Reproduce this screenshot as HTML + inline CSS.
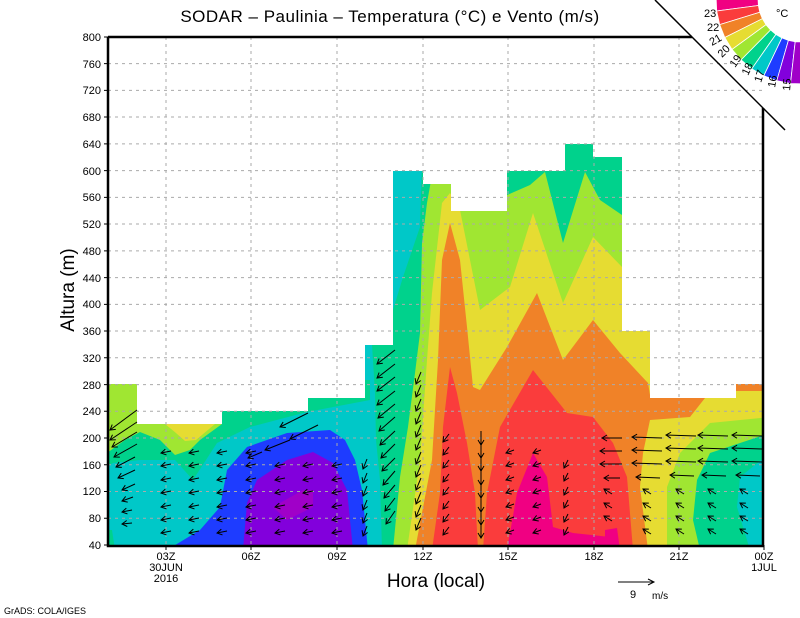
<!DOCTYPE html>
<html><head><meta charset="utf-8"><style>
html,body{margin:0;padding:0;background:#fff;}
svg{display:block;font-family:"Liberation Sans",sans-serif;}
</style></head><body>
<svg width="800" height="618" viewBox="0 0 800 618" xmlns="http://www.w3.org/2000/svg">
<defs>
<clipPath id="dc">
<polygon points="108,384 137,384 137,424 222,424 222,411 308,411 308,398 365,398 365,345 393,345 393,171 423,171 423,184 451,184 451,211 507,211 507,171 565,171 565,144 593,144 593,157 622,157 622,331 650,331 650,398 736,398 736,384 763,384 763,545 108,545"/>
</clipPath>
<marker id="ah" markerUnits="userSpaceOnUse" markerWidth="12" markerHeight="12" refX="0" refY="0" viewBox="-8 -6 12 12" orient="auto">
<path d="M-5,-3L0,0L-5,3" fill="none" stroke="#000" stroke-width="1"/>
</marker>
</defs>
<g clip-path="url(#dc)">
<rect x="100" y="130" width="670" height="420" fill="#00c8c8"/>
<polygon fill="#00d28c" points="100,380 370,380 370,400 307,412 250,427 217,443 193,480 175,460 140,460 113,463 100,470"/>
<polygon fill="#a0e632" points="100,380 222,380 222,424 200,440 190,450 175,455 160,440 140,432 125,440 100,458"/>
<polygon fill="#e6dc32" points="165,424 215,424 196,440 185,441 176,433"/>
<polygon fill="#00d28c" points="100,530 112,530 115,550 100,550"/>
<polygon fill="#1e3cff" points="167,550 200,530 220,507 227,470 247,447 287,433 330,430 345,440 355,460 362,490 368,550"/>
<polygon fill="#8200dc" points="243,550 247,503 257,480 287,460 313,452 333,463 347,490 353,550"/>
<polygon fill="#a000c8" points="273,507 303,490 313,490 313,507 287,520"/>
<polygon fill="#00d28c" points="423,130 770,130 770,453 740,477 737,507 750,550 382,550 380,480 376,440 375,393 372,345 393,310 403,277 420,227"/>
<polygon fill="#a0e632" points="440,130 505,130 507,195 530,185 545,172 563,243 585,172 600,200 622,215 622,130 770,130 770,433 710,453 697,480 693,520 700,550 393,550 400,477 408,427 415,373 420,333 422,243 427,203"/>
<polygon fill="#e6dc32" points="442,203 450,193 460,210 480,310 510,287 533,213 563,303 593,237 622,267 650,320 770,320 770,417 710,423 680,453 667,487 667,550 407,550 420,460 427,360 432,293"/>
<polygon fill="#f08228" points="450,223 460,260 467,327 473,387 480,390 507,347 537,293 563,360 593,320 620,353 648,383 650,395 705,398 690,417 650,420 643,453 640,487 648,550 415,550 432,460 438,360 442,260"/>
<polygon fill="#f08228" points="736,383 770,383 770,391 736,391"/>
<polygon fill="#fa3c3c" points="450,367 457,393 467,443 475,493 478,550 432,550 440,493 443,427"/>
<polygon fill="#fa3c3c" points="483,550 487,493 500,427 533,370 567,413 593,417 613,443 627,477 633,550"/>
<polygon fill="#f00082" points="507,550 517,493 533,453 547,477 553,527 573,533 610,537 617,550"/>
<polygon fill="#f00082" points="605,530 617,528 620,550 605,550"/>
</g>
<g stroke="#aaa" stroke-width="1" stroke-dasharray="3,4" fill="none">
<path d="M108,518.3H763M108,491.5H763M108,464.8H763M108,438H763M108,411.3H763M108,384.6H763M108,357.8H763M108,331H763M108,304.4H763M108,277.6H763M108,250.9H763M108,224H763M108,197.4H763M108,170.6H763M108,143.9H763M108,117H763M108,90.4H763M108,63.6H763"/>
<path d="M166,37V545M251,37V545M337,37V545M423,37V545M508,37V545M594,37V545M679,37V545"/>
</g>
<!-- wind arrows -->
<g stroke="#000" stroke-width="1" fill="none" marker-end="url(#ah)">
<line x1="137" y1="410" x2="110" y2="430"/><line x1="137" y1="422" x2="110" y2="440"/><line x1="137" y1="432" x2="112" y2="447"/><line x1="137" y1="444" x2="114" y2="457"/><line x1="135" y1="457" x2="116" y2="467"/><line x1="135" y1="470" x2="118" y2="478"/><line x1="135" y1="484" x2="122" y2="490"/><line x1="133" y1="497" x2="122" y2="501"/><line x1="132" y1="510" x2="122" y2="512"/><line x1="132" y1="523" x2="122" y2="524"/>
<line x1="171" y1="451" x2="161" y2="453"/><line x1="171" y1="464" x2="161" y2="466"/><line x1="171" y1="478" x2="161" y2="480"/><line x1="171" y1="491" x2="161" y2="493"/><line x1="171" y1="505" x2="161" y2="507"/><line x1="171" y1="518" x2="161" y2="520"/><line x1="171" y1="531" x2="161" y2="533"/>
<line x1="199" y1="451" x2="189" y2="453"/><line x1="199" y1="464" x2="189" y2="466"/><line x1="199" y1="478" x2="189" y2="480"/><line x1="199" y1="491" x2="189" y2="493"/><line x1="199" y1="505" x2="189" y2="507"/><line x1="199" y1="518" x2="189" y2="520"/><line x1="199" y1="531" x2="189" y2="533"/>
<line x1="227" y1="451" x2="217" y2="453"/><line x1="227" y1="464" x2="217" y2="466"/><line x1="227" y1="478" x2="217" y2="480"/><line x1="227" y1="491" x2="217" y2="493"/><line x1="227" y1="505" x2="217" y2="507"/><line x1="227" y1="518" x2="217" y2="520"/><line x1="227" y1="531" x2="217" y2="533"/>
<line x1="256" y1="451" x2="246" y2="453"/><line x1="256" y1="464" x2="246" y2="466"/><line x1="256" y1="478" x2="246" y2="480"/><line x1="256" y1="491" x2="246" y2="493"/><line x1="256" y1="505" x2="246" y2="507"/><line x1="256" y1="518" x2="246" y2="520"/><line x1="256" y1="531" x2="246" y2="533"/>
<line x1="285" y1="464" x2="275" y2="466"/><line x1="285" y1="478" x2="275" y2="480"/><line x1="285" y1="491" x2="275" y2="493"/><line x1="285" y1="505" x2="275" y2="507"/><line x1="285" y1="518" x2="275" y2="520"/><line x1="285" y1="531" x2="275" y2="533"/>
<line x1="313" y1="464" x2="303" y2="466"/><line x1="313" y1="478" x2="303" y2="480"/><line x1="313" y1="491" x2="303" y2="493"/><line x1="313" y1="505" x2="303" y2="507"/><line x1="313" y1="518" x2="303" y2="520"/><line x1="313" y1="531" x2="303" y2="533"/>
<line x1="342" y1="464" x2="332" y2="466"/><line x1="342" y1="478" x2="332" y2="480"/><line x1="342" y1="491" x2="332" y2="493"/><line x1="342" y1="505" x2="332" y2="507"/><line x1="342" y1="518" x2="332" y2="520"/><line x1="342" y1="531" x2="332" y2="533"/>
<line x1="308" y1="413" x2="280" y2="427"/><line x1="318" y1="425" x2="290" y2="439"/><line x1="290" y1="440" x2="265" y2="450"/><line x1="262" y1="452" x2="248" y2="458"/>
<line x1="367" y1="459" x2="363" y2="469"/><line x1="367" y1="473" x2="363" y2="483"/><line x1="367" y1="486" x2="363" y2="496"/><line x1="367" y1="500" x2="363" y2="510"/><line x1="367" y1="513" x2="363" y2="523"/><line x1="367" y1="526" x2="363" y2="536"/>
<line x1="395" y1="350" x2="377" y2="364"/><line x1="395" y1="364" x2="377" y2="378"/><line x1="395" y1="377" x2="377" y2="391"/><line x1="395" y1="391" x2="377" y2="405"/><line x1="395" y1="404" x2="378" y2="418"/><line x1="395" y1="417" x2="379" y2="431"/><line x1="395" y1="431" x2="380" y2="445"/><line x1="395" y1="444" x2="381" y2="458"/><line x1="395" y1="458" x2="382" y2="471"/><line x1="395" y1="471" x2="383" y2="485"/><line x1="395" y1="485" x2="384" y2="498"/><line x1="395" y1="498" x2="385" y2="511"/><line x1="395" y1="511" x2="386" y2="524"/>
<line x1="421" y1="372" x2="416" y2="384"/><line x1="421" y1="385" x2="416" y2="397"/><line x1="421" y1="399" x2="416" y2="411"/><line x1="421" y1="412" x2="416" y2="424"/><line x1="421" y1="425" x2="416" y2="437"/><line x1="421" y1="438" x2="416" y2="450"/><line x1="421" y1="452" x2="416" y2="464"/><line x1="421" y1="465" x2="416" y2="477"/><line x1="421" y1="478" x2="416" y2="490"/><line x1="421" y1="492" x2="416" y2="504"/><line x1="421" y1="505" x2="416" y2="517"/><line x1="421" y1="518" x2="416" y2="530"/>
<line x1="449" y1="434" x2="443" y2="442"/><line x1="449" y1="447" x2="443" y2="455"/><line x1="449" y1="460" x2="443" y2="468"/><line x1="449" y1="474" x2="443" y2="482"/><line x1="449" y1="487" x2="443" y2="495"/><line x1="449" y1="501" x2="443" y2="509"/><line x1="449" y1="514" x2="443" y2="522"/><line x1="449" y1="527" x2="443" y2="535"/>
<line x1="481" y1="431" x2="481" y2="445"/><line x1="481" y1="444" x2="481" y2="458"/><line x1="481" y1="457" x2="481" y2="471"/><line x1="481" y1="471" x2="481" y2="485"/><line x1="481" y1="484" x2="481" y2="498"/><line x1="481" y1="498" x2="481" y2="512"/><line x1="481" y1="511" x2="481" y2="525"/><line x1="481" y1="524" x2="481" y2="538"/>
<line x1="514" y1="450" x2="506" y2="453"/><line x1="514" y1="463" x2="506" y2="466"/><line x1="514" y1="477" x2="506" y2="480"/><line x1="514" y1="490" x2="506" y2="493"/><line x1="514" y1="504" x2="506" y2="507"/><line x1="514" y1="517" x2="506" y2="520"/><line x1="514" y1="530" x2="506" y2="533"/>
<line x1="541" y1="450" x2="533" y2="453"/><line x1="541" y1="463" x2="533" y2="466"/><line x1="541" y1="477" x2="533" y2="480"/><line x1="541" y1="490" x2="533" y2="493"/><line x1="541" y1="504" x2="533" y2="507"/><line x1="541" y1="517" x2="533" y2="520"/><line x1="541" y1="530" x2="533" y2="533"/>
<line x1="568" y1="460" x2="564" y2="468"/><line x1="568" y1="473" x2="564" y2="481"/><line x1="568" y1="487" x2="564" y2="495"/><line x1="568" y1="500" x2="564" y2="508"/><line x1="568" y1="514" x2="564" y2="522"/><line x1="568" y1="527" x2="564" y2="535"/>
<line x1="622" y1="438" x2="602" y2="438"/><line x1="622" y1="451" x2="600" y2="451"/><line x1="622" y1="464" x2="600" y2="464"/><line x1="620" y1="478" x2="604" y2="478"/>
<line x1="662" y1="438" x2="632" y2="437"/><line x1="662" y1="451" x2="632" y2="450"/><line x1="662" y1="464" x2="632" y2="463"/><line x1="660" y1="478" x2="636" y2="477"/>
<line x1="696" y1="436" x2="666" y2="435"/><line x1="696" y1="449" x2="666" y2="448"/><line x1="696" y1="462" x2="666" y2="461"/><line x1="694" y1="476" x2="670" y2="475"/>
<line x1="728" y1="436" x2="698" y2="435"/><line x1="728" y1="449" x2="698" y2="448"/><line x1="728" y1="462" x2="698" y2="461"/><line x1="726" y1="476" x2="702" y2="475"/>
<line x1="762" y1="436" x2="732" y2="435"/><line x1="762" y1="449" x2="732" y2="448"/><line x1="762" y1="462" x2="732" y2="461"/><line x1="760" y1="476" x2="736" y2="475"/>
<line x1="612" y1="494" x2="604" y2="489"/><line x1="612" y1="508" x2="604" y2="503"/><line x1="612" y1="521" x2="604" y2="516"/>
<line x1="651" y1="494" x2="643" y2="489"/><line x1="651" y1="508" x2="643" y2="503"/><line x1="651" y1="521" x2="643" y2="516"/><line x1="651" y1="534" x2="643" y2="529"/>
<line x1="684" y1="494" x2="676" y2="489"/><line x1="684" y1="508" x2="676" y2="503"/><line x1="684" y1="521" x2="676" y2="516"/><line x1="684" y1="534" x2="676" y2="529"/>
<line x1="716" y1="494" x2="708" y2="489"/><line x1="716" y1="508" x2="708" y2="503"/><line x1="716" y1="521" x2="708" y2="516"/><line x1="716" y1="534" x2="708" y2="529"/>
<line x1="748" y1="494" x2="740" y2="489"/><line x1="748" y1="508" x2="740" y2="503"/><line x1="748" y1="521" x2="740" y2="516"/><line x1="748" y1="534" x2="740" y2="529"/>
</g>
<g stroke="#000" fill="none">
<path d="M108,37V546H764" stroke-width="2.5"/>
<path d="M108,37H692" stroke-width="2.5"/>
<path d="M763,108V546" stroke-width="2.5"/>
<path d="M104,545h4M104,518.3h4M104,491.5h4M104,464.8h4M104,438h4M104,411.3h4M104,384.6h4M104,357.8h4M104,331h4M104,304.4h4M104,277.6h4M104,250.9h4M104,224h4M104,197.4h4M104,170.6h4M104,143.9h4M104,117h4M104,90.4h4M104,63.6h4M104,37h4" stroke-width="1"/>
<path d="M166,545v5M251,545v5M337,545v5M423,545v5M508,545v5M594,545v5M679,545v5M764,545v5" stroke-width="1"/>
</g>
<!-- legend wedges -->
<g stroke="#fff" stroke-width="0.8">
<polygon fill="#f00082" points="758.0,-1.5 716.1,-2.9 716.7,11.0 758.4,5.5"/>
<polygon fill="#fa3c3c" points="758.4,5.5 716.7,11.0 719.7,24.6 759.8,12.3"/>
<polygon fill="#f08228" points="759.8,12.3 719.7,24.6 724.8,37.5 762.4,18.7"/>
<polygon fill="#e6dc32" points="762.4,18.7 724.8,37.5 732.0,49.4 766.0,24.7"/>
<polygon fill="#a0e632" points="766.0,24.7 732.0,49.4 741.1,59.9 770.6,30.0"/>
<polygon fill="#00d28c" points="770.6,30.0 741.1,59.9 751.8,68.8 775.9,34.4"/>
<polygon fill="#00c8c8" points="775.9,34.4 751.8,68.8 763.8,75.8 781.9,37.9"/>
<polygon fill="#1e3cff" points="781.9,37.9 763.8,75.8 776.8,80.7 788.4,40.4"/>
<polygon fill="#8200dc" points="788.4,40.4 776.8,80.7 790.5,83.5 795.2,41.7"/>
<polygon fill="#a000c8" points="795.2,41.7 790.5,83.5 804.4,83.9 802.2,41.9"/>
</g>
<path d="M655,0L785,130" stroke="#000" stroke-width="1.5" fill="none"/>
<g font-size="11" text-anchor="end" fill="#000">
<text x="101" y="549">40</text><text x="101" y="522">80</text><text x="101" y="495">120</text><text x="101" y="469">160</text><text x="101" y="442">200</text><text x="101" y="415">240</text><text x="101" y="389">280</text><text x="101" y="362">320</text><text x="101" y="335">360</text><text x="101" y="308">400</text><text x="101" y="282">440</text><text x="101" y="255">480</text><text x="101" y="228">520</text><text x="101" y="201">560</text><text x="101" y="175">600</text><text x="101" y="148">640</text><text x="101" y="121">680</text><text x="101" y="94">720</text><text x="101" y="68">760</text><text x="101" y="41">800</text>
</g>
<g font-size="11" text-anchor="middle" fill="#000">
<text x="166" y="560">03Z</text><text x="166" y="571">30JUN</text><text x="166" y="582">2016</text>
<text x="251" y="560">06Z</text><text x="337" y="560">09Z</text><text x="423" y="560">12Z</text><text x="508" y="560">15Z</text><text x="594" y="560">18Z</text><text x="679" y="560">21Z</text>
<text x="764" y="560">00Z</text><text x="764" y="571">1JUL</text>
</g>
<text x="390" y="22" font-size="17" text-anchor="middle" letter-spacing="0.5">SODAR – Paulinia – Temperatura (°C) e Vento (m/s)</text>
<text x="436" y="587" font-size="19" text-anchor="middle">Hora (local)</text>
<text transform="translate(74,290) rotate(-90)" font-size="19" text-anchor="middle">Altura (m)</text>
<path d="M618,582H654M648,579L654,582L648,585" stroke="#000" fill="none"/>
<text x="630" y="598" font-size="11">9</text><text x="652" y="599" font-size="10">m/s</text>
<text x="4" y="614" font-size="9">GrADS: COLA/IGES</text>
<g font-size="11" fill="#000">
<text x="704" y="17">23</text><text x="707" y="31">22</text><text transform="translate(712,46) rotate(-30)">21</text>
<text transform="translate(722,58) rotate(-45)">20</text>
<text transform="translate(735,68) rotate(-55)">19</text>
<text transform="translate(748,76) rotate(-65)">18</text>
<text transform="translate(761,83) rotate(-72)">17</text>
<text transform="translate(775,88) rotate(-80)">16</text>
<text transform="translate(790,91) rotate(-85)">15</text>
<text x="776" y="17" font-size="11">°C</text>
</g>
</svg>
</body></html>
